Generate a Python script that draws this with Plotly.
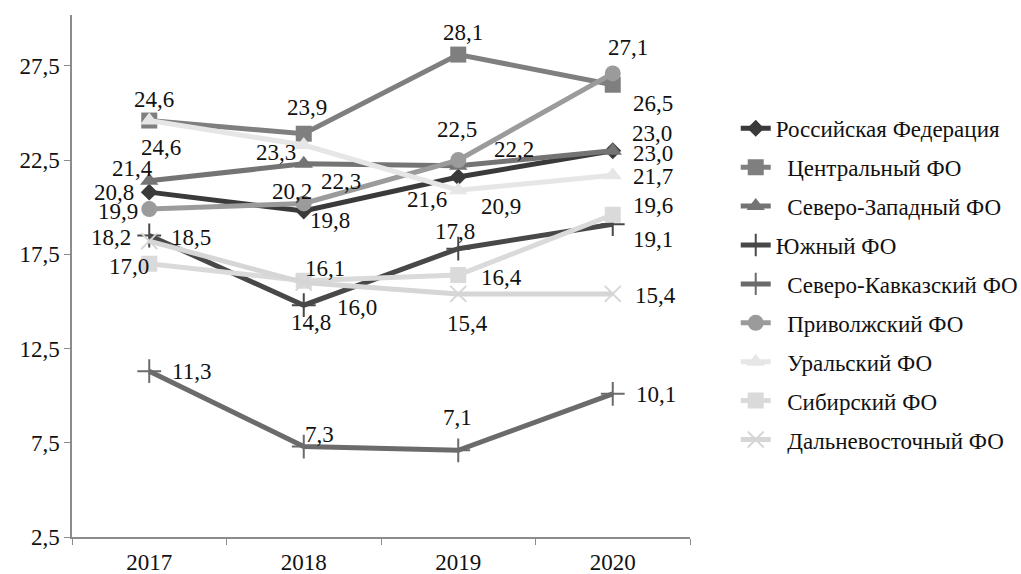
import plotly.graph_objects as go

years = ["2017", "2018", "2019", "2020"]

series_names = [
    "Российская Федерация",
    "\u00a0\u00a0Центральный ФО",
    "\u00a0\u00a0Северо-Западный ФО",
    "Южный ФО",
    "\u00a0\u00a0Северо-Кавказский ФО",
    "\u00a0\u00a0Приволжский ФО",
    "\u00a0\u00a0Уральский ФО",
    "\u00a0\u00a0Сибирский ФО",
    "\u00a0\u00a0Дальневосточный ФО",
]

rf = [20.8, 19.8, 21.6, 23.0]
central = [24.6, 23.9, 28.1, 26.5]
northwest = [21.4, 22.3, 22.2, 23.0]
south = [18.5, 14.8, 17.8, 19.1]
north_caucasus = [11.3, 7.3, 7.1, 10.1]
volga = [19.9, 20.2, 22.5, 27.1]
ural = [24.6, 23.3, 20.9, 21.7]
siberia = [17.0, 16.1, 16.4, 19.6]
far_east = [18.2, 16.0, 15.4, 15.4]

values = [rf, central, northwest, south, north_caucasus, volga, ural, siberia, far_east]

# ---- styles ----
colors = ["#3a3a3a", "#7f7f7f", "#747474", "#484848", "#6b6b6b",
          "#9b9b9b", "#e6e6e6", "#dadada", "#d6d6d6"]
symbols = ["diamond", "square", "triangle-up", "cross-thin", "cross-thin",
           "circle", "triangle-up", "square", "x-thin"]
sizes = [13, 16, 16, 17, 17, 16, 16, 16, 16]

# label offsets from the marker in pixels (dx right, dy down)
label_offsets = [
    [(-35, 0), (26, 10), (-31, 22), (39, -17)],     # RF
    [(5, -21), (3, -26), (5, -22), (40, 19)],       # Central
    [(-17, -12), (37, 18), (56, -16), (40, 3)],     # NW
    [(42, 2), (7, 17), (-3, -17), (40, 15)],        # South
    [(42, 0), (16, -12), (-1, -33), (43, 1)],       # N Caucasus
    [(-31, 2), (-12, -12), (-1, -31), (15, -26)],   # Volga
    [(12, 27), (-28, 7), (43, 16), (40, 1)],        # Ural
    [(-20, 3), (21, -12), (43, 2), (40, -9)],       # Siberia
    [(-38, -4), (53, 25), (9, 30), (43, 2)],        # Far East
]

font_family = "Liberation Serif, Times New Roman, serif"
FS = 23

fig = go.Figure()
annotations = []
for i, (name, vals) in enumerate(zip(series_names, values)):
    thin = symbols[i] in ("cross-thin", "x-thin")
    fig.add_trace(go.Scatter(
        x=years, y=vals, name=name, mode="lines+markers",
        line=dict(color=colors[i], width=5),
        marker=dict(symbol=symbols[i], size=sizes[i], color=colors[i],
                    line=dict(color=colors[i], width=2 if thin else 0)),
        legendgroup=f"g{i}",
        cliponaxis=False,
    ))
    for j, v in enumerate(vals):
        dx, dy = label_offsets[i][j]
        annotations.append(dict(
            x=j, y=v, xref="x", yref="y",
            text=f"{v:.1f}".replace(".", ","), showarrow=False,
            xshift=dx, yshift=-dy, xanchor="center", yanchor="middle",
            font=dict(family=font_family, size=FS, color="#111111"),
        ))

fig.update_layout(
    width=1021, height=574,
    paper_bgcolor="white", plot_bgcolor="white",
    margin=dict(l=72, r=331, t=15, b=37, autoexpand=False),
    separators=", ",
    font=dict(family=font_family, size=FS, color="#111111"),
    showlegend=True,
    annotations=annotations,
    legend=dict(x=1.074, y=0.824, xanchor="left", yanchor="top",
                font=dict(family=font_family, size=FS, color="#111111"),
                tracegroupgap=6, bgcolor="rgba(0,0,0,0)"),
    xaxis=dict(type="category", range=[-0.5, 3.5], showgrid=False,
               showline=True, linecolor="#8c8c8c", linewidth=1.5,
               ticks="outside", tickson="boundaries", ticklen=6,
               tickcolor="#8c8c8c", tickfont=dict(size=FS), zeroline=False,
               ticklabelstandoff=4, automargin=False),
    yaxis=dict(range=[2.5, 30.2], showgrid=False, showline=True,
               linecolor="#8c8c8c", linewidth=1.5,
               tickvals=[2.5, 7.5, 12.5, 17.5, 22.5, 27.5], tickformat=".1f",
               ticks="outside", ticklen=6, tickcolor="#8c8c8c",
               tickfont=dict(size=FS), zeroline=False, automargin=False),
)

fig.write_html("out.html")
